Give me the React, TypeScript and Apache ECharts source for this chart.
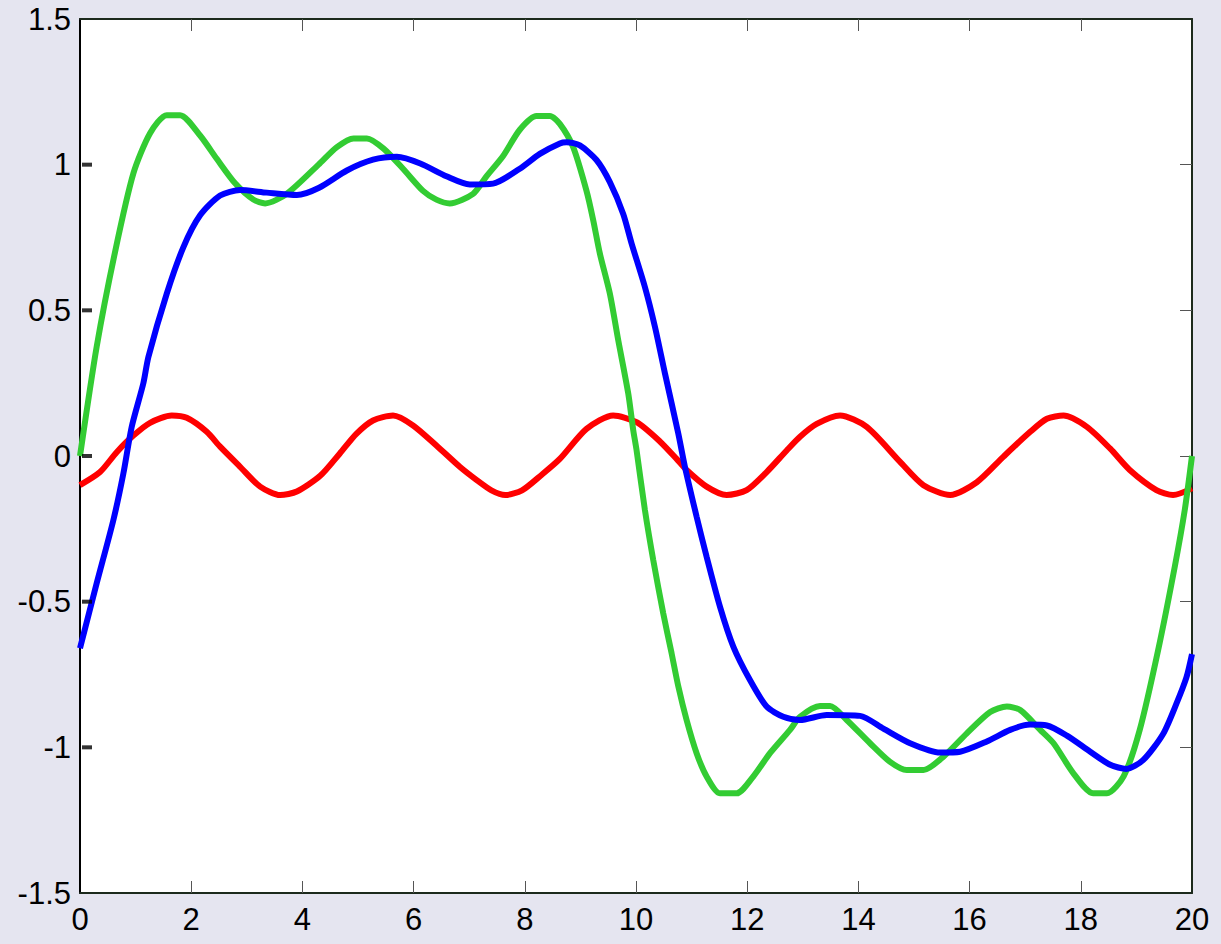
import React, { useEffect, useRef } from "react";
import * as echarts from "echarts";

const xTicks = [0, 2, 4, 6, 8, 10, 12, 14, 16, 18, 20];
const yTicks = [-1.5, -1, -0.5, 0, 0.5, 1, 1.5];
const leftTickValues = [-1, -0.5, 0, 0.5, 1];

const greenData: [number, number][] = [
  [0, 0], [0.3, 0.375], [0.63, 0.7], [0.96, 0.97], [1.26, 1.108], [1.56, 1.17], [1.8, 1.17],
  [2.16, 1.1], [2.46, 1.02], [2.79, 0.936], [3.12, 0.88], [3.33, 0.867], [3.72, 0.9], [4.29, 1.0],
  [4.62, 1.06], [4.92, 1.09], [5.16, 1.09], [5.46, 1.055], [5.81, 0.986], [6.17, 0.91], [6.41, 0.88],
  [6.65, 0.867], [7.07, 0.9], [7.31, 0.96], [7.61, 1.03], [7.91, 1.12], [8.21, 1.167], [8.45, 1.167],
  [8.63, 1.14], [8.87, 1.06], [9.11, 0.91], [9.23, 0.81], [9.35, 0.695], [9.53, 0.557], [9.68, 0.398],
  [9.86, 0.215], [9.95, 0.089], [10.01, 0.02], [10.16, -0.185], [10.31, -0.357], [10.49, -0.54],
  [10.64, -0.677], [10.76, -0.79], [10.91, -0.906], [11.09, -1.02], [11.27, -1.1], [11.51, -1.158],
  [11.81, -1.158], [12.11, -1.1], [12.41, -1.02], [12.77, -0.94], [12.95, -0.895], [13.31, -0.858],
  [13.49, -0.858], [13.79, -0.906], [14.21, -0.986], [14.57, -1.05], [14.87, -1.078], [15.17, -1.078],
  [15.53, -1.032], [15.95, -0.952], [16.37, -0.879], [16.67, -0.86], [16.91, -0.872], [17.27, -0.94],
  [17.51, -0.986], [17.87, -1.09], [18.22, -1.158], [18.47, -1.158], [18.77, -1.1], [19.06, -0.94],
  [19.39, -0.667], [19.69, -0.38], [19.87, -0.185], [20, 0],
];

const blueData: [number, number][] = [
  [0, -0.66], [0.3, -0.437], [0.6, -0.22], [0.78, -0.06], [0.93, 0.1], [1.14, 0.25], [1.23, 0.34],
  [1.56, 0.557], [1.86, 0.717], [2.16, 0.826], [2.52, 0.894], [2.88, 0.913], [3.36, 0.904], [3.9, 0.896],
  [4.3, 0.921], [4.8, 0.98], [5.27, 1.017], [5.7, 1.027], [6.12, 1.004], [6.59, 0.96], [7.01, 0.932],
  [7.43, 0.935], [7.91, 0.986], [8.27, 1.037], [8.63, 1.073], [8.75, 1.077], [8.99, 1.066], [9.29, 1.016],
  [9.53, 0.94], [9.77, 0.831], [9.92, 0.73], [10.16, 0.58], [10.34, 0.444], [10.52, 0.284], [10.76, 0.078],
  [10.88, -0.037], [11.09, -0.208], [11.27, -0.346], [11.51, -0.517], [11.75, -0.654], [12.05, -0.769],
  [12.35, -0.86], [12.65, -0.895], [12.95, -0.906], [13.43, -0.889], [14.03, -0.892], [14.45, -0.936],
  [14.93, -0.986], [15.47, -1.018], [15.83, -1.015], [16.31, -0.98], [16.73, -0.94], [17.09, -0.922],
  [17.39, -0.925], [17.75, -0.96], [18.17, -1.015], [18.53, -1.06], [18.82, -1.074], [19.12, -1.044],
  [19.48, -0.954], [19.72, -0.85], [19.9, -0.76], [20, -0.68],
];

const redData: [number, number][] = [
  [0, -0.1], [0.36, -0.055], [0.66, 0.013], [0.96, 0.07], [1.26, 0.114], [1.65, 0.139], [1.92, 0.131],
  [2.28, 0.083], [2.52, 0.032], [2.88, -0.037], [3.24, -0.105], [3.6, -0.134], [3.9, -0.122],
  [4.32, -0.068], [4.67, 0.008], [4.97, 0.076], [5.27, 0.122], [5.63, 0.139], [5.99, 0.105],
  [6.41, 0.036], [6.83, -0.037], [7.13, -0.082], [7.4, -0.118], [7.65, -0.134], [7.95, -0.118],
  [8.3, -0.065], [8.63, -0.01], [9.11, 0.093], [9.59, 0.139], [10.01, 0.116], [10.43, 0.05],
  [10.73, -0.01], [10.91, -0.048], [11.27, -0.105], [11.63, -0.134], [11.99, -0.117], [12.35, -0.055],
  [12.71, 0.019], [12.95, 0.066], [13.25, 0.11], [13.67, 0.139], [14.15, 0.1], [14.75, -0.02],
  [15.17, -0.1], [15.65, -0.134], [16.13, -0.09], [16.61, -0.002], [17.09, 0.083], [17.39, 0.128],
  [17.69, 0.139], [18.11, 0.1], [18.53, 0.025], [18.88, -0.048], [19.36, -0.117], [19.66, -0.134],
  [20, -0.111],
];

const FONT = "'Liberation Sans', Arial, Helvetica, sans-serif";
const frameColor = "#1c2a1c";

export default function App() {
  const ref = useRef<HTMLDivElement>(null);
  useEffect(() => {
    if (!ref.current) return;
    const chart = echarts.init(ref.current, null, { renderer: "svg" });
    const lineSeries = (data: [number, number][], color: string) => ({
      type: "line",
      data,
      showSymbol: false,
      smooth: 0.25,
      lineStyle: { color, width: 6 },
      xAxisIndex: 0,
      yAxisIndex: 0,
    });
    chart.setOption({
      animation: false,
      backgroundColor: "#e5e5f0",
      grid: { left: 80, top: 19, right: 29, bottom: 51, show: true, backgroundColor: "#ffffff", borderWidth: 0 },
      xAxis: [
        {
          type: "value", min: 0, max: 20, interval: 2, position: "bottom",
          axisLine: { show: true, onZero: false, lineStyle: { color: frameColor, width: 2 } },
          axisTick: { show: true, inside: true, length: 12, lineStyle: { color: "#555", width: 1 }, customValues: xTicks.slice(1, -1) },
          axisLabel: { fontSize: 31, color: "#000", fontFamily: FONT, margin: 11, customValues: xTicks },
          splitLine: { show: false },
        },
        {
          type: "value", min: 0, max: 20, interval: 2, position: "top",
          axisLine: { show: true, onZero: false, lineStyle: { color: frameColor, width: 2 } },
          axisTick: { show: true, inside: true, length: 12, lineStyle: { color: "#555", width: 1 }, customValues: xTicks.slice(1, -1) },
          axisLabel: { show: false },
          splitLine: { show: false },
        },
      ],
      yAxis: [
        {
          type: "value", min: -1.5, max: 1.5, interval: 0.5, position: "left",
          axisLine: { show: true, onZero: false, lineStyle: { color: "#000", width: 2 } },
          axisTick: { show: false },
          axisLabel: { fontSize: 31, color: "#000", fontFamily: FONT, margin: 9, customValues: yTicks },
          splitLine: { show: false },
        },
        {
          type: "value", min: -1.5, max: 1.5, interval: 0.5, position: "right",
          axisLine: { show: true, onZero: false, lineStyle: { color: frameColor, width: 2 } },
          axisTick: { show: true, inside: true, length: 12, lineStyle: { color: "#555", width: 1 }, customValues: leftTickValues },
          axisLabel: { show: false },
          splitLine: { show: false },
        },
      ],
      series: [
        lineSeries(redData, "#ff0000"),
        lineSeries(greenData, "#33cc33"),
        lineSeries(blueData, "#0000ff"),
        {
          type: "scatter",
          data: leftTickValues.map((v) => [0, v]),
          symbol: "rect",
          symbolSize: [10, 4],
          symbolOffset: [7, 0],
          itemStyle: { color: "#000" },
          clip: false,
          silent: true,
          z: 10,
          xAxisIndex: 0,
          yAxisIndex: 0,
        },
      ],
    });
    return () => chart.dispose();
  }, []);
  return (
    <div
      ref={ref}
      style={{ position: "fixed", left: 0, top: 0, width: 1221, height: 944 }}
    />
  );
}
